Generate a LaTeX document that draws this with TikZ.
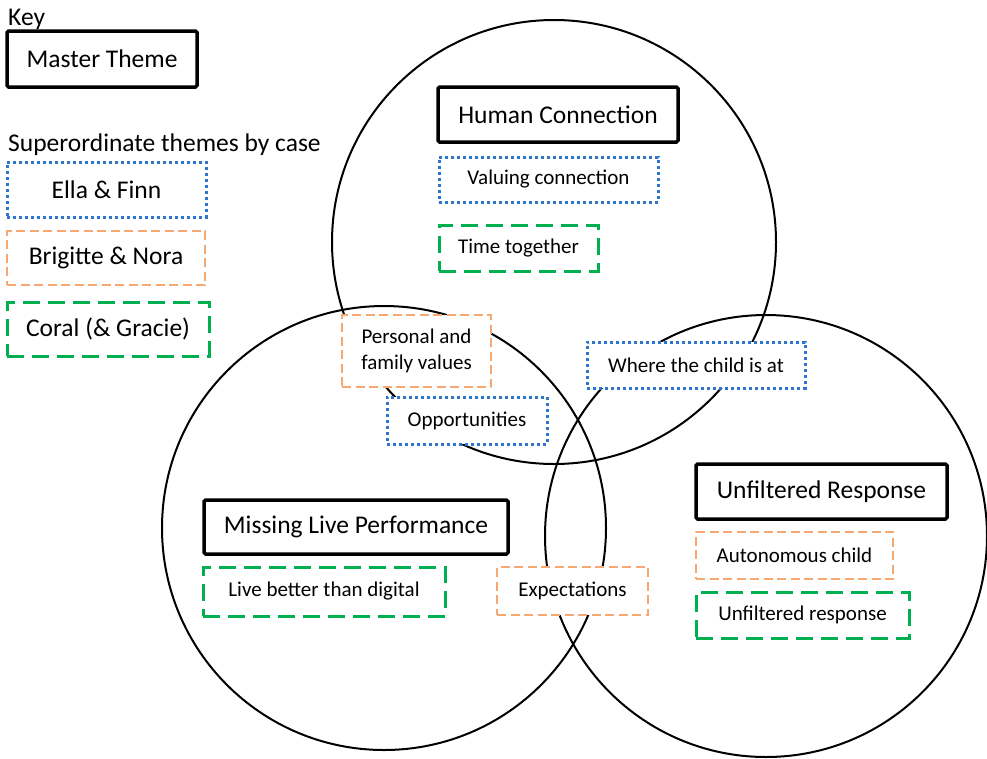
\documentclass[tikz,border=0pt]{standalone}
\usepackage{fontspec}
\setmainfont{Carlito}
\usepackage{tikz}
\definecolor{efblue}{HTML}{2E75D0}
\definecolor{bnorange}{HTML}{F6A872}
\definecolor{cggreen}{HTML}{00B050}

\begin{document}
\begin{tikzpicture}[x=1pt, y=-1pt,
	box/.style = {draw, fill = white, inner sep = 0pt, align = center},
	master/.style = {box, line width = 3.5pt, rounded corners = 1.5pt, font = \fontsize{25.5}{30}\selectfont},
	ef/.style = {box, draw = efblue, line width = 3pt, dash pattern = on 3pt off 3pt},
	bn/.style = {box, draw = bnorange, line width = 1.5pt, dash pattern = on 9pt off 4.5pt},
	cg/.style = {box, draw = cggreen, line width = 3pt, dash pattern = on 17pt off 8pt},
	big/.style = {font = \fontsize{25.5}{30}\selectfont},
	small/.style = {font = \fontsize{21}{26}\selectfont}]
	\useasboundingbox (0,0) rectangle (987,758);
	% circles
	\draw [line width = 2pt] (554,242) circle [radius = 222pt];
	\draw [line width = 2pt] (384,528) circle [radius = 222pt];
	\draw [line width = 2pt] (766,536) circle [radius = 221pt];
	% key
	\node [big, anchor = base west, inner sep = 0pt] (key) at (8,25) {Key};
	\node [master, minimum width = 190pt, minimum height = 56pt] (mt) at (102,59) {Master Theme};
	\node [big, anchor = base west, inner sep = 0pt] (sup) at (8,151) {Superordinate themes by case};
	\node [ef, big, minimum width = 199pt, minimum height = 55pt] (ella) at (106.5,189.5) {Ella \& Finn};
	\node [bn, big, minimum width = 198pt, minimum height = 54pt] (brig) at (106,258) {Brigitte \& Nora};
	\node [cg, big, minimum width = 202pt, minimum height = 54pt] (coral) at (108,329) {Coral (\& Gracie)};
	% human connection
	\node [master, minimum width = 240pt, minimum height = 55pt] (human) at (558,114.5) {Human Connection};
	\node [ef, small, minimum width = 219pt, minimum height = 45pt] (valuing) at (548.5,179.5) {Valuing connection};
	\node [cg, small, minimum width = 159pt, minimum height = 46pt] (together) at (518.5,248) {Time together};
	% overlaps
	\node [bn, small, minimum width = 149pt, minimum height = 72pt] (values) at (416.5,351) {Personal and\\family values};
	\node [ef, small, minimum width = 160pt, minimum height = 47pt] (opport) at (467,420.5) {Opportunities};
	\node [ef, small, minimum width = 218pt, minimum height = 46pt] (where) at (696,365) {Where the child is at};
	\node [bn, small, minimum width = 151pt, minimum height = 48pt] (expect) at (572.5,591) {Expectations};
	% missing live performance
	\node [master, minimum width = 304pt, minimum height = 54pt] (missing) at (356,527) {Missing Live Performance};
	\node [cg, small, minimum width = 242pt, minimum height = 49pt] (live) at (324,591.5) {Live better than digital};
	% unfiltered response
	\node [master, minimum width = 251pt, minimum height = 55pt] (unfilt) at (821.5,491.5) {Unfiltered Response};
	\node [bn, small, minimum width = 197pt, minimum height = 47pt] (auton) at (794.5,555.5) {Autonomous child};
	\node [cg, small, minimum width = 213pt, minimum height = 46pt] (resp) at (802.5,615) {Unfiltered response};
\end{tikzpicture}
\end{document}
